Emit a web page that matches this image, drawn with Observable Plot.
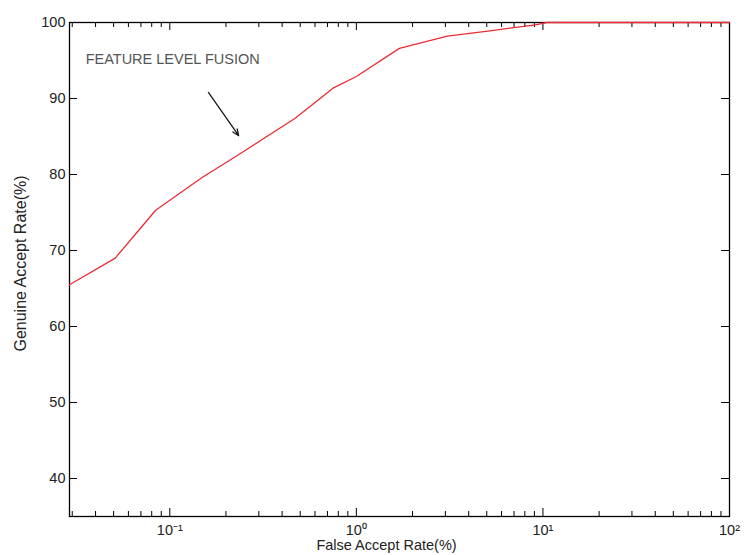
<!DOCTYPE html>
<html>
<head>
<meta charset="utf-8">
<script src="https://cdn.jsdelivr.net/npm/d3@7"></script>
<script src="https://cdn.jsdelivr.net/npm/@observablehq/plot@0.6"></script>
<style>
  html, body { margin: 0; padding: 0; background: #fff; }
  #chart svg { display: block; }
</style>
</head>
<body>
<div id="chart"></div>
<script>
// ---- data ----
const far = [0.029, 0.051, 0.084, 0.149, 0.23, 0.47, 0.755, 1.0, 1.7, 3.07, 5.2, 9.1, 10.5, 100];
const gar = [65.5, 69.0, 75.3, 79.6, 82.5, 87.4, 91.4, 92.9, 96.6, 98.2, 98.9, 99.7, 100, 100];

const xMajorTicks = [0.1, 1, 10, 100];
const xMajorLabels = ["10\u207B\u00B9", "10\u2070", "10\u00B9", "10\u00B2"];
const yTicks = [40, 50, 60, 70, 80, 90, 100];

const annotationText = ["FEATURE LEVEL FUSION"];
const annotationX = [0.0354];
const annotationY = [95.2];
const arrowFromX = [0.161], arrowFromY = [90.8];
const arrowToX = [0.234], arrowToY = [85.1];

const xLabel = "False Accept Rate(%)";
const yLabel = "Genuine Accept Rate(%)";

// ---- build ----
const W = 744, H = 555;
const mL = 69, mR = 15, mT = 22, mB = 39;
const pw = W - mL - mR, ph = H - mT - mB;
const xDomain = [0.029, 100];

const curve = far.map((x, i) => ({x, y: gar[i]}));
const minorTicks = [];
for (let e = -2; e <= 1; e++) for (let m = 2; m <= 9; m++) {
  const v = m * Math.pow(10, e);
  if (v > xDomain[0] && v < xDomain[1]) minorTicks.push(v);
}
const annot = annotationText.map((t, i) => ({t, x: annotationX[i], y: annotationY[i]}));
const arrows = arrowFromX.map((x, i) => ({x1: x, y1: arrowFromY[i], x2: arrowToX[i], y2: arrowToY[i]}));
const fmt = d => xMajorLabels[xMajorTicks.indexOf(d)];

const chart = Plot.plot({
  width: W, height: H,
  marginLeft: mL, marginRight: mR, marginTop: mT, marginBottom: mB,
  style: {fontFamily: "'Liberation Sans', Arial, sans-serif", fontSize: "14px", color: "#222", background: "#fff"},
  x: {type: "log", domain: xDomain, axis: null},
  y: {domain: [35, 100], axis: null},
  marks: [
    Plot.axisX(xMajorTicks, {tickSize: 0, tickPadding: 8, tickFormat: fmt, label: null, fontSize: 14.5}),
    Plot.axisY(yTicks, {tickSize: 0, tickPadding: 4, label: null, fontSize: 14.5}),
    // inward ticks
    Plot.tickY(yTicks, {y: d => d, insetRight: pw - 8, stroke: "#000"}),
    Plot.tickY(yTicks, {y: d => d, insetLeft: pw - 8, stroke: "#000"}),
    Plot.tickX(xMajorTicks, {x: d => d, insetTop: ph - 8, stroke: "#000"}),
    Plot.tickX(xMajorTicks, {x: d => d, insetBottom: ph - 8, stroke: "#000"}),
    Plot.tickX(minorTicks, {x: d => d, insetTop: ph - 5, stroke: "#000"}),
    Plot.tickX(minorTicks, {x: d => d, insetBottom: ph - 5, stroke: "#000"}),
    Plot.frame({stroke: "#000", strokeWidth: 1.3}),
    Plot.line(curve, {x: "x", y: "y", stroke: "#ec2b35", strokeWidth: 1.3}),
    Plot.text(annot, {x: "x", y: "y", text: "t", textAnchor: "start", fontSize: 14.5, fill: "#555"}),
    Plot.arrow(arrows, {x1: "x1", y1: "y1", x2: "x2", y2: "y2", stroke: "#1a1a1a", strokeWidth: 1.3, headLength: 8, headAngle: 45}),
    Plot.text([xLabel], {text: d => d, frameAnchor: "bottom", lineAnchor: "top", dy: 23, dx: -13, fontSize: 14.5}),
    Plot.text([yLabel], {text: d => d, frameAnchor: "left", textAnchor: "middle", rotate: -90, dx: -49, dy: -6, fontSize: 16})
  ]
});
document.getElementById("chart").appendChild(chart);
</script>
</body>
</html>
